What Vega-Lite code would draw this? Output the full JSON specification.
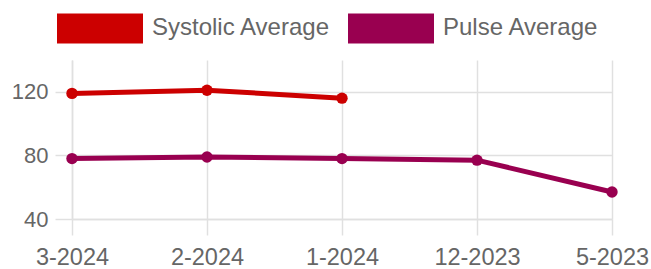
{
  "$schema": "https://vega.github.io/schema/vega-lite/v6.json",
  "autosize": {"type": "none"},
  "width": 540,
  "height": 159,
  "padding": {"left": 72, "top": 60, "right": 39, "bottom": 50},
  "background": "white",
  "config": {
    "view": {"stroke": null},
    "font": "Liberation Sans",
    "axis": {
      "labelFont": "Liberation Sans",
      "labelFontSize": 22,
      "labelColor": "#666666",
      "gridColor": "#e0e0e0",
      "gridWidth": 1.5,
      "tickColor": "#e0e0e0",
      "tickWidth": 1.5,
      "domainColor": "#e0e0e0",
      "domainWidth": 1.5,
      "title": null
    }
  },
  "data": {
    "values": [
      {"month": "3-2024", "series": "Systolic Average", "value": 119},
      {"month": "2-2024", "series": "Systolic Average", "value": 121},
      {"month": "1-2024", "series": "Systolic Average", "value": 116},
      {"month": "3-2024", "series": "Pulse Average", "value": 78},
      {"month": "2-2024", "series": "Pulse Average", "value": 79},
      {"month": "1-2024", "series": "Pulse Average", "value": 78},
      {"month": "12-2023", "series": "Pulse Average", "value": 77},
      {"month": "5-2023", "series": "Pulse Average", "value": 57}
    ]
  },
  "encoding": {
    "x": {
      "field": "month",
      "type": "ordinal",
      "sort": ["3-2024", "2-2024", "1-2024", "12-2023", "5-2023"],
      "scale": {"type": "point", "padding": 0},
      "axis": {"labelAngle": 0, "labelFontSize": 23.5, "grid": true, "tickSize": 16, "labelPadding": 10, "domain": true}
    },
    "y": {
      "field": "value",
      "type": "quantitative",
      "scale": {"domain": [40, 140], "nice": false, "zero": false},
      "axis": {"values": [40, 80, 120], "tickSize": 17, "labelPadding": 7, "domain": true, "grid": true}
    },
    "color": {
      "field": "series",
      "type": "nominal",
      "sort": ["Systolic Average", "Pulse Average"],
      "scale": {"domain": ["Systolic Average", "Pulse Average"], "range": ["#cc0000", "#990050"]},
      "legend": {
        "title": null,
        "orient": "none",
        "direction": "horizontal",
        "legendX": -15,
        "legendY": -75,
        "symbolType": "M-1,-0.35H1V0.35H-1Z",
        "symbolSize": 7396,
        "labelFontSize": 24,
        "labelLimit": 400,
        "labelColor": "#666666",
        "labelFont": "Liberation Sans",
        "labelOffset": 9,
        "columnPadding": 17,
        "symbolOpacity": 1,
        "symbolStrokeWidth": 0,
        "encode": {
          "symbols": {
            "update": {
              "fill": {"scale": "color", "field": "value"},
              "opacity": {"value": 1}
            }
          }
        }
      }
    }
  },
  "layer": [
    {"mark": {"type": "line", "strokeWidth": 5}},
    {"mark": {"type": "point", "filled": true, "size": 130, "opacity": 1}}
  ]
}
